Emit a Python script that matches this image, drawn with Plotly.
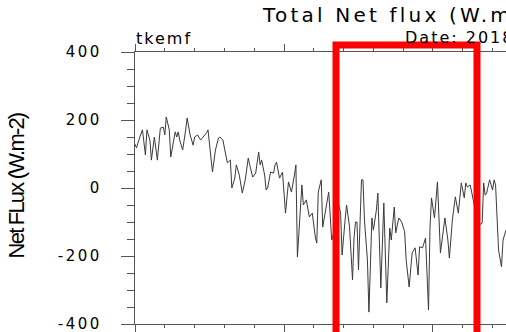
import plotly.graph_objects as go

# time index (arbitrary units) and net flux values (W.m-2)
time_idx = [0, 1, 3, 5, 7, 8, 10, 11, 13, 15, 17, 19, 20, 21, 23, 24, 26, 27, 28, 29,
            30, 32, 34, 35, 37, 39, 40, 42,
            44, 46, 48, 49, 50, 52, 54, 56, 57, 59, 60, 62, 64, 65, 67, 68, 70, 72, 74, 76,
            77, 79, 81, 83,
            84, 85, 87, 88, 89, 91, 93, 94, 95, 97, 99, 101, 103, 105, 107, 108, 109, 111, 112, 113,
            115, 117, 119, 121, 122, 123, 125, 126, 128, 130, 131, 132, 134, 136, 138, 139, 141, 142, 144, 146,
            147, 148, 149, 150, 152, 153, 154, 156, 157, 158, 159, 160, 162, 163, 165, 167, 169, 171, 172, 174,
            175, 177, 179, 181, 182, 184, 186, 188, 190, 191, 193, 195, 197, 198, 199, 201, 203, 205, 207, 208,
            210, 211, 213, 215, 217, 219, 221, 222, 223, 225, 227, 229, 231, 233, 234, 235, 236, 238, 240, 241,
            242, 244, 246, 247, 249]
net_flux = [129, 118, 147, 171, 97, 171, 141, 82, 150, 82, 176, 179, 156, 209, 171, 91, 141, 165, 150, 165,
            141, 112, 171, 206, 156, 126, 150, 156,
            141, 150, 162, 171, 126, 47, 112, 147, 150, 141, 118, 74, 82, 0, 29, 68, 38, -15, 24, 88,
            68, 32, 44, 106,
            68, 82, 38, -6, 0, 47, 44, 68, 76, 29, 47, -74, 18, -12, 38, 68, -203, -56, 9, -50,
            -35, -85, -74, -144, -162, -12, 24, -115, -65, -12, -79, -153, -124, -35, -74, -197, -94, -50, -115, -270,
            -147, -100, -100, -241, 24, 24, -94, -212, -365, -212, -88, -124, -65, -15, -294, -44, -338, -118, -153, -56,
            -132, -88, -100, -129, -212, -291, -191, -176, -256, -173, -176, -147, -359, -115, -29, -88, 18, -191, -124, -88,
            -153, -206, -94, -26, -74, 15, -29, 15, 3, 9, -35, -79, -109, -103, 15, -21, -15, 24, -6, 24,
            9, -182, -232, -153, -124]

y_ticks = [-400, -200, 0, 200, 400]
y_tick_labels = ["-400", "-200", "0", "200", "400"]

title_text = "Total Net flux (W.m-2)"
left_text = "tkemf"
right_text = "Date: 2018"
y_title = "Net FLux (W.m-2)"

FONT = "DejaVu Sans, Liberation Sans, Arial"
AX = "#555555"


def spaced(s, px):
    return '<span style="letter-spacing:%spx">%s</span>' % (px, s)


fig = go.Figure()
fig.add_trace(go.Scatter(x=time_idx, y=net_flux, mode="lines",
                         line=dict(color="#3a3a3a", width=1), showlegend=False,
                         hoverinfo="skip"))

fig.update_layout(
    width=506, height=332,
    margin=dict(l=135, r=0, t=52, b=8),
    paper_bgcolor="white", plot_bgcolor="white",
    showlegend=False,
)
fig.update_xaxes(
    range=[0, 249], showgrid=False, zeroline=False,
    showline=True, linecolor=AX, linewidth=1.3, mirror="ticks",
    ticks="outside", ticklen=7, tickcolor=AX, tickwidth=1.2,
    tick0=0, dtick=100, showticklabels=False,
    minor=dict(ticks="outside", ticklen=3, dtick=20, tickcolor=AX, tickwidth=1),
)
fig.update_yaxes(
    range=[-400, 400], showgrid=False, zeroline=False,
    showline=True, linecolor=AX, linewidth=1.3, mirror=False,
    ticks="outside", ticklen=13, tickcolor=AX, tickwidth=1.2,
    tickvals=y_ticks, ticktext=[spaced(t, 2.5) for t in y_tick_labels], ticklabelstandoff=16,
    ticklabeloverflow="allow",
    tickfont=dict(family=FONT, size=15, color="black"),
    minor=dict(ticks="outside", ticklen=7, dtick=50, tickcolor=AX, tickwidth=1),
)

fig.add_annotation(text=spaced(title_text, 3.2), xref="paper", yref="paper", x=0.337, y=1.135,
                   xanchor="left", yanchor="middle", showarrow=False,
                   font=dict(family=FONT, size=20, color="black"))
fig.add_annotation(text=spaced(left_text, 2), xref="paper", yref="paper", x=-0.004, y=1.05,
                   xanchor="left", yanchor="middle", showarrow=False,
                   font=dict(family=FONT, size=16, color="black"))
fig.add_annotation(text=spaced(right_text, 2), xref="paper", yref="paper", x=0.722, y=1.052,
                   xanchor="left", yanchor="middle", showarrow=False,
                   font=dict(family=FONT, size=16, color="black"))
fig.add_annotation(text=spaced(y_title, -1.8), xref="paper", yref="paper", x=-0.32, y=0.507,
                   xanchor="center", yanchor="middle", textangle=-90, showarrow=False,
                   font=dict(family="Liberation Sans, Arial", size=22, color="black"))

# red highlight box (annotation overlay)
fig.add_shape(type="rect", xref="paper", yref="paper",
              x0=0.5418, x1=0.9218, y0=-0.2, y1=1.0257,
              line=dict(color="#ff0000", width=7), fillcolor="rgba(0,0,0,0)")

fig.write_html("out.html")
